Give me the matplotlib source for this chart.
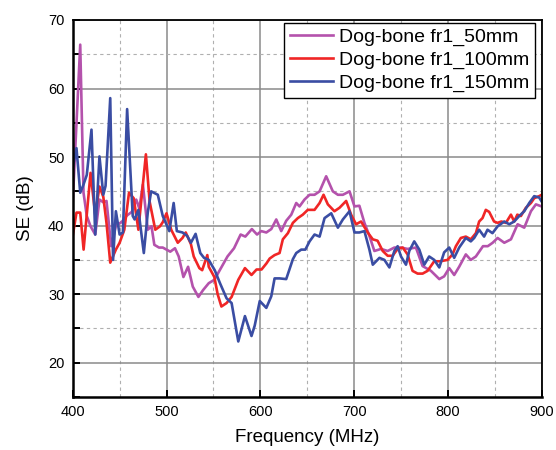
import matplotlib
matplotlib.use("Agg")
import matplotlib.pyplot as plt
from matplotlib.ticker import MultipleLocator

plt.rcParams['font.family'] = ['Liberation Sans', 'DejaVu Sans']
plt.rcParams['xtick.direction'] = 'in'
plt.rcParams['ytick.direction'] = 'in'

# ---- data ----
f_50 = [400, 408, 411.5, 415, 419, 424, 428.5, 432.6, 436, 441, 446, 452, 458, 463,
        467.7, 471, 474.8, 480, 484, 487, 492, 496, 500, 504, 509, 513, 518, 523, 528,
        534, 539, 545, 551, 558, 565, 572, 579, 584, 591, 596.5, 601, 606.4, 611.7, 617,
        622.3, 627.6, 633, 638.3, 641.8, 647.1, 652.5, 657.8, 663.2, 670.2, 677.3, 682.7,
        688, 695.1, 700.4, 705.6, 711, 716.3, 721.6, 728.7, 735.8, 742.9, 750, 757, 765.9,
        773, 781.9, 790.8, 796, 801.4, 806.7, 812, 819.1, 824.4, 829.8, 837.4, 842.5,
        847.7, 853, 860.1, 867.2, 874.3, 881.4, 888.5, 893.8, 900]
se_50 = [43.4, 66.4, 44.8, 41.4, 39.9, 38.7, 43.8, 43.4, 43.6, 37.0, 40.0, 40.5, 41.5, 42.0,
         43.8, 42.5, 46.0, 39.4, 39.9, 37.2, 36.8, 36.8, 36.5, 36.2, 36.7, 35.5, 32.5, 34.0, 31.1,
         29.6, 30.6, 31.6, 32.1, 33.8, 35.5, 36.7, 38.7, 38.4, 39.5, 38.7, 39.2, 39.0, 39.5, 40.9,
         39.2, 40.7, 41.6, 43.3, 42.8, 43.8, 44.5, 44.5, 45.0, 47.2, 45.0, 44.5,
         44.5, 45.0, 42.8, 42.9, 40.4, 38.5, 36.3, 36.6, 36.3, 36.8, 36.8, 36.6, 36.8,
         34.1, 33.4, 32.2, 32.6, 33.8, 32.8, 34.0, 35.8, 35.0, 35.5, 37.0, 37.0,
         37.5, 38.2, 37.5, 38.0, 40.2, 39.7, 42.1, 43.1, 42.8]

f_100 = [400, 404, 408, 411.6, 419, 424, 428.5, 432.6, 436, 440, 446, 450, 455, 460, 465,
         470, 478, 482, 488, 493, 496, 500, 505, 512, 517, 520.5, 526, 529, 535, 538, 543.5,
         545, 551, 554.5, 558.5, 564, 569.4, 576.5, 583.6, 590.6, 596, 601.3, 606.6, 610,
         615.2, 620.5, 624, 629.4, 634.7, 640, 645.3, 650.6, 657.8, 663.2, 667.4, 672, 679,
         684.4, 691.5, 696.8, 702.1, 707.4, 714.5, 719.9, 725, 730.5, 735.8, 741, 746.4,
         751.8, 757, 762.3, 767.7, 773, 778.3, 785.4, 792, 799.6, 804.9, 808.5, 813.8, 819.1,
         824.4, 829.8, 833.3, 836.9, 840.4, 844, 849.2, 853, 857, 861.8, 867.2, 870.7, 874,
         877.8, 883.1, 888.5, 892, 897.3, 900]
se_100 = [38.5, 41.9, 41.9, 36.5, 47.7, 41.6, 45.7, 44.2, 40.4, 34.6, 36.5, 37.5, 39.4, 44.8, 44.0,
          39.4, 50.4, 43.5, 39.4, 39.9, 40.5, 41.8, 39.4, 37.5, 38.2, 39.0, 37.3, 35.5, 33.8, 33.5, 35.7,
          34.0, 32.5, 30.0, 28.2, 28.7, 29.6, 32.1, 33.8, 32.8, 33.6, 33.6, 34.5, 35.2,
          35.7, 36.0, 38.0, 38.9, 40.4, 41.1, 41.6, 42.3, 42.3, 43.3, 44.5, 43.1, 42.1,
          42.6, 43.6, 41.6, 40.2, 40.6, 39.0, 38.0, 37.8, 36.3, 35.6, 35.6, 36.6,
          36.8, 35.8, 33.4, 33.0, 33.0, 33.4, 34.8, 34.8, 35.0, 35.8, 37.0, 38.2, 38.4,
          38.0, 38.9, 40.6, 41.1, 42.3, 42.0, 40.6, 40.4, 40.6, 40.4, 41.6, 40.6, 41.6,
          41.4, 42.6, 43.3, 44.0, 44.3, 44.5]

f_150 = [400, 404, 408, 411, 415, 420, 424, 428.5, 432.6, 435, 440, 443, 446, 450, 453.5,
         458, 464, 466, 470, 475.8, 480, 483.6, 490.7, 496, 503, 507.6, 511, 517, 522, 526,
         531, 536, 540, 545, 551.4, 557, 564, 569.4, 576.5, 583.6, 590.6, 594, 599.4, 606.4,
         611.7, 615.2, 620.5, 627.6, 634.7, 638.3, 643.6, 648, 652.5, 657.8, 663.2, 668.5,
         675.6, 682.7, 688, 695.1, 700.4, 705.6, 711, 716.3, 719.9, 727, 732.3, 737.6, 742.9,
         746.4, 750, 755.3, 758.8, 764.1, 769.5, 774.8, 780, 785.4, 790.8, 796, 801.4, 806.7,
         812, 819.1, 824.4, 828, 833.3, 838.6, 842.2, 847.5, 853, 860.1, 865.4, 870.7, 876,
         881.4, 886.7, 892, 897.3, 900]
se_150 = [48.5, 51.3, 44.8, 45.8, 47.4, 54.0, 38.7, 50.1, 44.5, 45.8, 58.6, 35.0, 42.1, 38.7, 39.0,
          57.0, 41.4, 40.9, 42.3, 36.0, 41.9, 45.0, 44.5, 41.4, 39.2, 43.3, 39.2, 39.0, 38.5, 37.5,
          38.8, 36.0, 35.3, 35.0, 33.5, 31.6, 29.4, 28.7, 23.1, 26.8, 23.9, 25.4, 29.0, 28.0,
          29.7, 32.3, 32.3, 32.2, 35.1, 36.0, 36.5, 36.5, 37.7, 38.7, 38.4, 41.1,
          41.8, 39.7, 40.9, 42.1, 39.0, 39.0, 39.2, 36.5, 34.3, 35.3, 35.0, 33.9, 36.3,
          37.0, 35.5, 34.3, 36.3, 37.7, 36.5, 34.3, 35.5, 35.0, 33.9, 36.1, 36.8, 35.3,
          36.8, 38.2, 37.7, 38.2, 39.4, 38.4, 39.4, 38.9, 39.9, 40.6, 40.2, 40.6, 41.4,
          42.1, 43.3, 44.3, 44.1, 43.5]

labels = ["Dog-bone fr1_50mm", "Dog-bone fr1_100mm", "Dog-bone fr1_150mm"]
colors = ["#B452AC", "#F02626", "#3A4DA3"]

fig = plt.figure(figsize=(5.56, 4.5), dpi=100)
ax = fig.add_axes([0.1308, 0.1178, 0.8435, 0.8378])

for fx, sy, lab, c in zip([f_50, f_100, f_150], [se_50, se_100, se_150], labels, colors):
    ax.plot(fx, sy, color=c, lw=1.9, label=lab)

ax.set_xlim(400, 900)
ax.set_ylim(15, 70)
ax.xaxis.set_major_locator(MultipleLocator(100))
ax.xaxis.set_minor_locator(MultipleLocator(50))
ax.yaxis.set_major_locator(MultipleLocator(10))
ax.yaxis.set_minor_locator(MultipleLocator(5))
ax.set_yticks([20, 30, 40, 50, 60, 70])

ax.grid(which='major', color='#8a8a8a', lw=1.1, ls='-')
ax.grid(which='minor', color='#b0b0b0', lw=0.8, ls=(0, (3, 3)))
ax.set_axisbelow(True)

ax.tick_params(axis='both', which='major', direction='in', length=5, width=1.4,
               labelsize=10.5, pad=6, top=False, right=False)
ax.tick_params(axis='y', which='minor', direction='in', length=5, width=1.4,
               left=True, right=False)
ax.tick_params(axis='x', which='minor', length=0, top=False)

for s in ['left', 'bottom']:
    ax.spines[s].set_linewidth(1.8)
for s in ['top', 'right']:
    ax.spines[s].set_linewidth(1.3)

ax.set_xlabel("Frequency (MHz)", fontsize=13.5, labelpad=7)
ax.set_ylabel("SE (dB)", fontsize=13.5, labelpad=10)

leg = ax.legend(loc='upper right', bbox_to_anchor=(0.9857, 0.9928), fontsize=14,
                frameon=True, fancybox=False, edgecolor='black', framealpha=1,
                handlelength=2.2, handletextpad=0.3, labelspacing=0.26,
                borderpad=0.3, borderaxespad=0.0)
leg.get_frame().set_linewidth(1.0)

fig.savefig("out.png", dpi=100)
